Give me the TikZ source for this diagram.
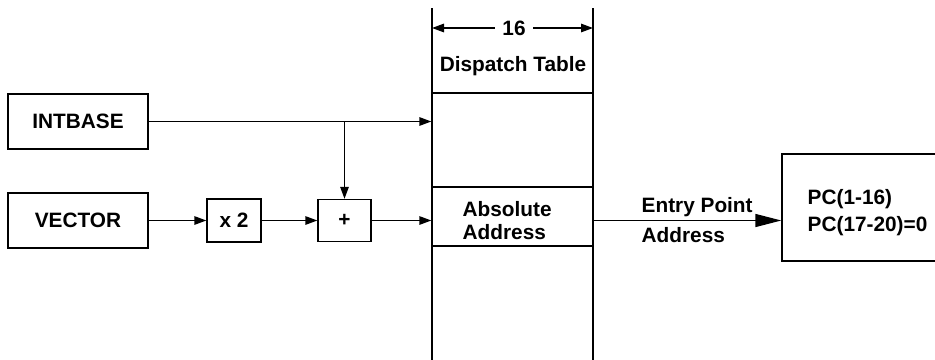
\documentclass[tikz,border=0pt]{standalone}
\usepackage{fontspec}
\setmainfont{Liberation Sans}
\usetikzlibrary{arrows.meta}
\begin{document}
\begin{tikzpicture}[x=1pt,y=-1pt, line width=1.4pt,
 lbl/.style={font=\bfseries\fontsize{20.8}{24}\selectfont, inner sep=0pt},
 blk/.style={draw, lbl, line width=1.4pt},
 arr/.style={-{Triangle[length=12pt,width=8.5pt]}},
 bigarr/.style={-{Triangle[length=26pt,width=13pt]}}]
\useasboundingbox (0,0) rectangle (935,359);
\clip (0,0) rectangle (935,359);
% dispatch table
\coordinate (tl) at (432,8);
\coordinate (tr) at (593,8);
\coordinate (bl) at (432,362);
\coordinate (br) at (593,362);
\draw (tl) -- (bl);
\draw (tr) -- (br);
\node[draw, minimum width=161pt, minimum height=94pt, inner sep=0pt] (row2) at (512.5,140) {};
\node[draw, minimum width=161pt, minimum height=59pt, inner sep=0pt] (abs) at (512.5,216.5) {};
\node[lbl, align=left, anchor=west] (abstxt) at (462,220.5) {Absolute\\[-1pt]Address};
\node[lbl] (dt) at (513,66) {Dispatch Table};
\node[lbl, fill=white, inner xsep=7pt] (sixteen) at (514,28) {16};
\draw[{Triangle[length=12pt,width=8.5pt]}-] (tl |- sixteen) -- (sixteen.west);
\draw[-{Triangle[length=12pt,width=8.5pt]}] (sixteen.east) -- (tr |- sixteen);
% blocks
\node[blk, minimum width=140pt, minimum height=55pt] (intbase) at (78,121.5) {INTBASE};
\node[blk, minimum width=140pt, minimum height=55pt] (vector) at (78,220.5) {VECTOR};
\node[blk, minimum width=54pt, minimum height=43pt] (x2) at (234,220.5) {x 2};
\node[blk, minimum width=53pt, minimum height=42pt] (plus) at (344.5,220.5) {+};
\node[draw, minimum width=168pt, minimum height=107pt] (pc) at (866,207.5) {};
\node[lbl, align=left, anchor=west] (pctxt) at (807,212.5) {PC(1-16)\\[3pt]PC(17-20)=0};
% connectors
\coordinate (j) at (plus.north |- intbase.east);
\draw[arr] (intbase.east) -- (intbase.east -| row2.west);
\draw[arr] (j) -- (plus.north);
\draw[arr] (vector.east) -- (x2.west);
\draw[arr] (x2.east) -- (plus.west);
\draw[arr] (plus.east) -- (plus.east -| abs.west);
\draw[bigarr] (plus.east -| abs.east) -- (plus.east -| pc.west);
\node[lbl, anchor=west] (ep) at (641,207) {Entry Point};
\node[lbl, anchor=west] (epa) at (641,235) {Address};
\end{tikzpicture}
\end{document}
